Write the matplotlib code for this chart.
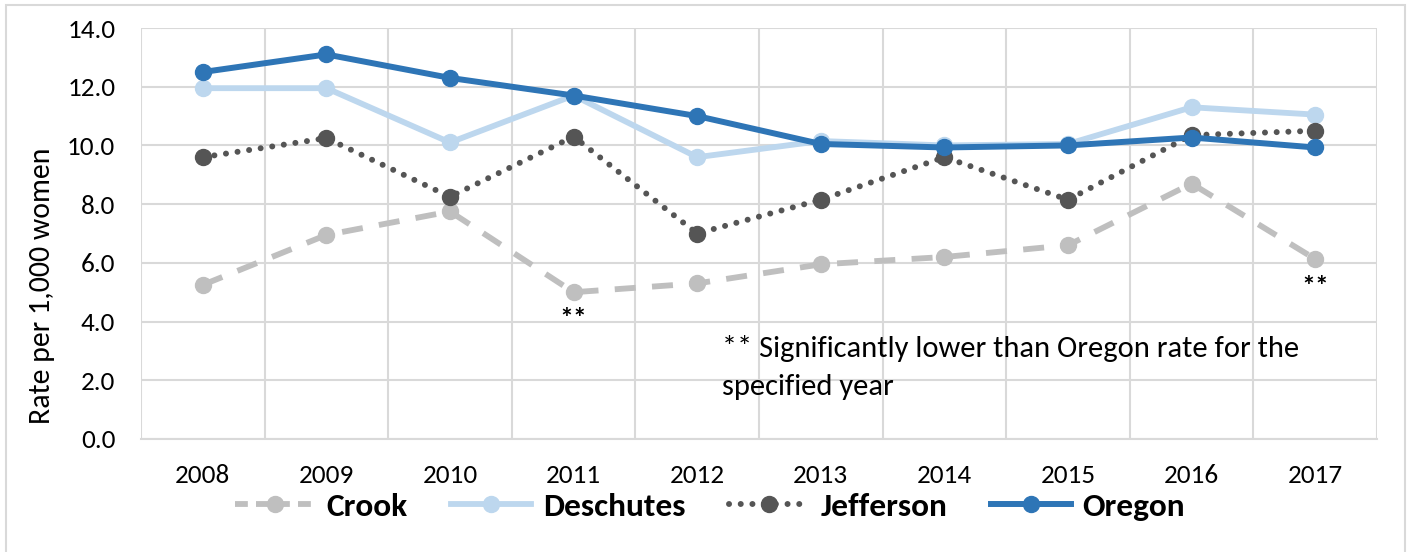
import matplotlib
matplotlib.use("Agg")
import matplotlib.pyplot as plt
from matplotlib.lines import Line2D
import numpy as np

years = ["2008", "2009", "2010", "2011", "2012", "2013", "2014", "2015", "2016", "2017"]
crook = [5.25, 6.95, 7.75, 5.0, 5.3, 5.95, 6.2, 6.6, 8.7, 6.13]
deschutes = [11.95, 11.95, 10.1, 11.7, 9.6, 10.15, 10.0, 10.05, 11.3, 11.05]
jefferson = [9.6, 10.25, 8.25, 10.3, 7.0, 8.15, 9.6, 8.15, 10.35, 10.5]
oregon = [12.5, 13.1, 12.3, 11.7, 11.0, 10.05, 9.93, 10.0, 10.27, 9.93]
yticks = [0, 2, 4, 6, 8, 10, 12, 14]
footnote = "** Significantly lower than Oregon rate for the\nspecified year"

plt.rcParams['font.family'] = ['Carlito', 'Lato', 'DejaVu Sans']

W, H = 1411, 552
fig = plt.figure(figsize=(W / 100, H / 100), dpi=100)
ax = fig.add_axes([141 / W, 1 - 439 / H, (1377 - 141) / W, (439 - 28) / H])

x = np.arange(len(years))
c_crook = "#bfbfbf"
c_desch = "#bdd7ee"
c_jeff = "#555555"
c_ore = "#2e75b6"

ms = 11.5
ax.plot(x, crook, color=c_crook, lw=4.2, dashes=(3.6, 2.8), marker='o', ms=ms, label="Crook", zorder=3)
ax.plot(x, deschutes, color=c_desch, lw=4.2, marker='o', ms=ms, label="Deschutes", zorder=4)
ax.plot(x, jefferson, color=c_jeff, lw=4.3, dashes=(0.01, 1.95), dash_capstyle='round', marker='o', ms=ms, label="Jefferson", zorder=5)
ax.plot(x, oregon, color=c_ore, lw=4.3, marker='o', ms=ms, label="Oregon", zorder=6)

ax.set_xlim(-0.5, len(years) - 0.5)
ax.set_ylim(0, 14)
ax.set_yticks(yticks)
ax.set_yticklabels([f"{v:.1f}" for v in yticks], fontsize=19.5)
ax.set_xticks(x)
ax.set_xticklabels(years, fontsize=19.5)
ax.set_xticks(np.arange(-0.5, len(years)), minor=True)
ax.tick_params(axis='both', which='both', length=0)
ax.tick_params(axis='y', pad=18.5)
ax.tick_params(axis='x', pad=18)
ax.grid(True, which='minor', axis='x', color='#d9d9d9', lw=1.5)
ax.grid(True, which='major', axis='y', color='#d9d9d9', lw=1.5)
for s in ax.spines.values():
    s.set_visible(False)
ax.spines['bottom'].set_visible(True)
ax.spines['bottom'].set_color('#d9d9d9')
ax.spines['bottom'].set_linewidth(1.5)
ax.set_axisbelow(True)

fig.text(42 / W, 1 - 286 / H, "Rate per 1,000 women", rotation=90, fontsize=21.5,
         ha='center', va='center')

ax.annotate("**", xy=(3, crook[3]), xytext=(0, -19), textcoords='offset points',
            ha='center', va='center', fontsize=20, fontweight='bold')
ax.annotate("**", xy=(9, crook[9]), xytext=(0, -20), textcoords='offset points',
            ha='center', va='center', fontsize=20, fontweight='bold')

fig.text(722 / W, 1 - 357 / H, footnote.split("\n")[0], fontsize=22, ha='left', va='baseline')
fig.text(722 / W, 1 - 395 / H, footnote.split("\n")[1], fontsize=22, ha='left', va='baseline')

handles = [
    Line2D([], [], color=c_crook, lw=4.2, dashes=(2.2, 1.4), marker='o', ms=ms),
    Line2D([], [], color=c_desch, lw=4.2, marker='o', ms=ms),
    Line2D([], [], color=c_jeff, lw=4.3, dashes=(0.01, 1.95), dash_capstyle='round', marker='o', ms=ms),
    Line2D([], [], color=c_ore, lw=4.3, marker='o', ms=ms),
]
leg = fig.legend(handles, ["Crook", "Deschutes", "Jefferson", "Oregon"], loc='center',
                 bbox_to_anchor=(710 / W, 1 - 507 / H), ncol=4, frameon=False,
                 prop={'size': 24, 'weight': 'bold'}, handlelength=2.4, columnspacing=1.3,
                 handletextpad=0.35)

frame = plt.Rectangle((6 / W, -0.05), (1405 - 6) / W, 1.05 - 5 / H, transform=fig.transFigure,
                      fill=False, edgecolor='#d9d9d9', lw=1.5)
fig.add_artist(frame)

fig.savefig("out.png", dpi=100)
